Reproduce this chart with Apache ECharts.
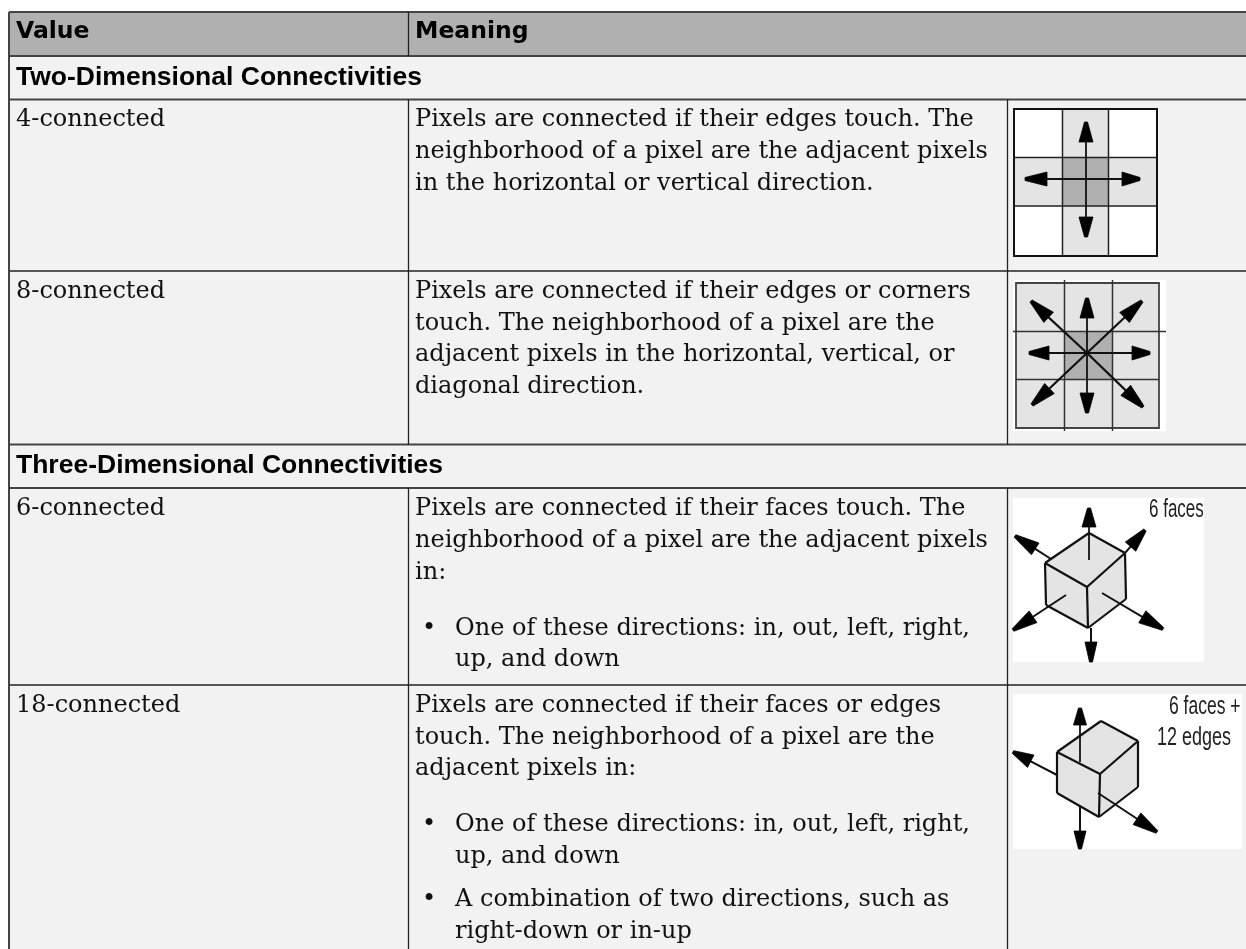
<!DOCTYPE html>
<html><head><meta charset="utf-8">
<style>html,body{margin:0;padding:0;background:#fff}#c{width:1246px;height:949px}</style>
<script src="https://cdn.jsdelivr.net/npm/echarts@6/dist/echarts.min.js"></script>
</head><body><div id="c"></div>
<script>
var columnHeaders = ["Value", "Meaning"];
var sectionTitles = ["Two-Dimensional Connectivities", "Three-Dimensional Connectivities"];
var rowNames = ["4-connected", "8-connected", "6-connected", "18-connected"];
var meaning4 = ["Pixels are connected if their edges touch. The", "neighborhood of a pixel are the adjacent pixels", "in the horizontal or vertical direction."];
var meaning8 = ["Pixels are connected if their edges or corners", "touch. The neighborhood of a pixel are the", "adjacent pixels in the horizontal, vertical, or", "diagonal direction."];
var meaning6 = ["Pixels are connected if their faces touch. The", "neighborhood of a pixel are the adjacent pixels", "in:"];
var bullets6 = [["One of these directions: in, out, left, right,", "up, and down"]];
var meaning18 = ["Pixels are connected if their faces or edges", "touch. The neighborhood of a pixel are the", "adjacent pixels in:"];
var bullets18 = [["One of these directions: in, out, left, right,", "up, and down"], ["A combination of two directions, such as", "right-down or in-up"]];

var G = [];
var W = 1246, H = 949, L = 9, C1 = 408.5, C2 = 1007.5;
var rowY = [12, 56, 99.5, 271, 444.5, 488, 685, 960];
var BORDER = '#333', CELL = '#f2f2f2', HEAD = '#b0b0b0', LIGHT = '#e4e4e4', MID = '#b0b0b0';
var SERIF = '"DejaVu Serif"', SANS = '"DejaVu Sans"', ARIAL = '"Liberation Sans"';

function rect(x, y, w, h, fill, z) { G.push({type:'rect', shape:{x:x,y:y,width:w,height:h}, style:{fill:fill}, z:z||1, silent:true}); }
function line(x1, y1, x2, y2, c, w, z) { G.push({type:'line', shape:{x1:x1,y1:y1,x2:x2,y2:y2}, style:{stroke:c||BORDER, lineWidth:w||1}, z:z||2, silent:true}); }
function poly(pts, fill, stroke, w, z) { G.push({type:'polygon', shape:{points:pts}, style:{fill:fill, stroke:stroke||null, lineWidth:w||0}, z:z||3, silent:true}); }
function text(s, x, y, font, size, weight, fill) {
  G.push({type:'text', x:x, y:y, z:5, silent:true, style:{text:s, x:0, y:0, fill:fill||'#111', verticalAlign:'middle', align:'left', font:(weight||'normal')+' '+size+'px '+font}});
}
function narrow(s, x, y, size, sx) {
  G.push({type:'text', x:x, y:y, scaleX:sx, z:5, silent:true, style:{text:s, x:0, y:0, fill:'#222', verticalAlign:'middle', align:'left', font:'normal '+size+'px '+ARIAL}});
}
function arrow(x0, y0, tx, ty, baseLen, halfW, lw) {
  var dx = tx-x0, dy = ty-y0, d = Math.sqrt(dx*dx+dy*dy), ux = dx/d, uy = dy/d;
  var bx = tx-ux*baseLen, by = ty-uy*baseLen;
  line(x0, y0, bx, by, '#111', lw||1.8, 3);
  var t = 1.5;
  poly([[tx-uy*t,ty+ux*t],[bx-uy*halfW,by+ux*halfW],[bx+uy*halfW,by-ux*halfW],[tx+uy*t,ty-ux*t]], '#000', '#000', 0.8, 4);
}

// table frame
rect(L, rowY[0], W-L, rowY[1]-rowY[0], HEAD, 1);
rect(L, rowY[1], W-L, H-rowY[1], CELL, 1);
rowY.forEach(function(y,i){ if(i<7) line(L, y, W, y, (i===3||i===6)?'#222':'#444', (i===3||i===6)?1.3:2); });
line(L, rowY[0], L, H, '#444', 2);
line(C1, rowY[0], C1, rowY[1], '#222', 1.3); 
[[2,4],[5,7]].forEach(function(r){
  line(C1, rowY[r[0]], C1, H<rowY[r[1]]?H:rowY[r[1]], '#222', 1.3);
  line(C2, rowY[r[0]], C2, H<rowY[r[1]]?H:rowY[r[1]], '#222', 1.3);
});

// text
var X1 = 16, X2 = 415, XB = 422, XB2 = 455, LH = 31.8, BODY = 24;
text(columnHeaders[0], X1, 32, SANS, 23.5, 'bold', '#000');
text(columnHeaders[1], X2, 32, SANS, 23.5, 'bold', '#000');
text(sectionTitles[0], X1, 77.5, ARIAL, 26.5, 'bold', '#000');
text(sectionTitles[1], X1, 465.5, ARIAL, 26.5, 'bold', '#000');
var firstLine = [120, 291.5, 509, 705.5];
[0,1,2,3].forEach(function(i){ text(rowNames[i], X1, firstLine[i], SERIF, BODY); });
function para(lines, y){ lines.forEach(function(s,i){ text(s, X2, y+i*LH, SERIF, BODY); }); return y+lines.length*LH; }
function bullets(items, y){ items.forEach(function(b){ text('\u2022', XB, y, SERIF, BODY);
  b.forEach(function(s,i){ text(s, XB2, y+i*LH, SERIF, BODY); }); y += b.length*LH + 11; }); }
para(meaning4, firstLine[0]);
para(meaning8, firstLine[1]);
para(meaning6, firstLine[2]);
bullets(bullets6, firstLine[2]+3*LH+24);
para(meaning18, firstLine[3]);
bullets(bullets18, firstLine[3]+3*LH+24);

// diagram 1
rect(1014,109,143,147,'#fff',2);
rect(1062,109,46,147,LIGHT,2);
rect(1014,157,143,49,LIGHT,2);
rect(1062,157,46,49,MID,2);
[1062.5,1108.5].forEach(function(x){ line(x,109,x,256,'#222',1.5,3); });
[157.5,206].forEach(function(y){ line(1014,y,1157,y,'#222',1.5,3); });
poly([[1014,109],[1157,109],[1157,256],[1014,256]],'rgba(0,0,0,0)','#111',2,3);
arrow(1086,179,1086,122,20,7);
arrow(1086,179,1086,237,20,7);
arrow(1086,179,1025,179,22,7);
arrow(1086,179,1140,179,18,7);

// diagram 2
rect(1013,280,153,151,'#fff',2);
rect(1016,283,143,145,LIGHT,2);
rect(1064,331,48,48,MID,2);
poly([[1016,283],[1159,283],[1159,428],[1016,428]],'rgba(0,0,0,0)','#444',1.8,3);
[1064.5,1112.5].forEach(function(x){ line(x,280,x,431,'#333',1.5,3); });
line(1013,331.5,1166,331.5,'#333',1.5,3);
line(1016,379.5,1159,379.5,'#333',1.5,3);
arrow(1087,353,1087,298,20,7);
arrow(1087,353,1087,413,20,7);
arrow(1087,353,1029,353,20,7);
arrow(1087,353,1150,353,18,7);
arrow(1087,353,1031,301,24,7,2.2);
arrow(1087,353,1142,301,24,7,2.2);
arrow(1087,353,1032,405,24,7,2.2);
arrow(1087,353,1143,407,24,7,2.2);

// diagram 3
rect(1013,498,191,164,'#fff',2);
poly([[1089,533],[1125,553],[1126,599],[1088,628],[1046,605],[1045,563]],LIGHT,null,0,2);
arrow(1089,560,1089,508,19,7);
arrow(1051,559,1015,536,24,7,2);
arrow(1125,553,1145,530,22,7,2);
arrow(1066,595,1013,630,24,7,2);
arrow(1102,593,1163,629,24,7,2);
arrow(1091,628,1091,662,20,6,2);
[[[1089,533],[1125,553]],[[1089,533],[1045,563]],[[1045,563],[1087,587]],[[1125,553],[1087,587]],[[1087,587],[1088,628]],[[1045,563],[1046,605]],[[1046,605],[1088,628]],[[1088,628],[1126,599]],[[1125,553],[1126,599]]].forEach(function(s){
  line(s[0][0],s[0][1],s[1][0],s[1][1],'#111',2.2,3);
});
narrow('6 faces',1149,510,25,0.68);

// diagram 4
rect(1013,694,229,155,'#fff',2);
poly([[1101,721],[1138,741],[1138,787],[1099,817],[1057,793],[1057,752]],LIGHT,null,0,2);
arrow(1080,762,1080,708,17,6.5);
arrow(1057,775,1013,752,20,7,2);
arrow(1098,793,1157,832,24,7,2);
arrow(1080,807,1080,849,18,6,2);
[[[1101,721],[1138,741]],[[1101,721],[1057,752]],[[1057,752],[1100,774]],[[1138,741],[1100,774]],[[1100,774],[1099,817]],[[1057,752],[1057,793]],[[1057,793],[1099,817]],[[1099,817],[1138,787]],[[1138,741],[1138,787]]].forEach(function(s){
  line(s[0][0],s[0][1],s[1][0],s[1][1],'#111',2.2,3);
});
narrow('6 faces +',1169,707,25,0.7);
narrow('12 edges',1157,738,25,0.72);

var chart = echarts.init(document.getElementById('c'), null, {renderer:'canvas', width:W, height:H});
chart.setOption({animation:false, backgroundColor:'#fff', graphic:{elements:G}});
</script></body></html>
